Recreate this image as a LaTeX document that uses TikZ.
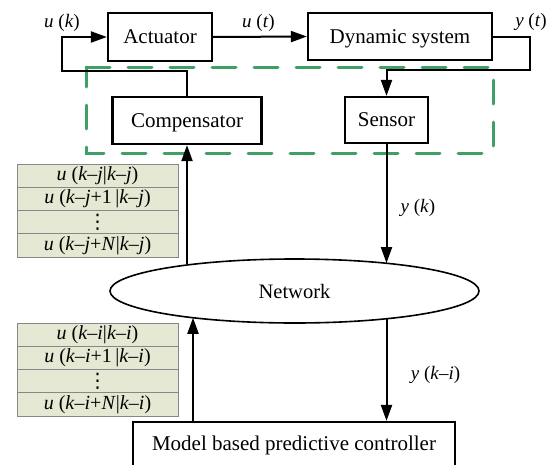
\documentclass[tikz,border=0pt]{standalone}
\usepackage{fontspec}
\setmainfont{Liberation Serif}
\newfontfamily\dejavu{DejaVu Sans}
\usetikzlibrary{arrows.meta,shapes.geometric,calc}
\definecolor{dashgreen}{RGB}{62,160,100}
\definecolor{tabfill}{RGB}{229,232,211}
\definecolor{tabline}{RGB}{135,135,135}
\newcommand\ii[1]{\textit{#1}}
\begin{document}
\begin{tikzpicture}[x=1pt,y=-1pt,
 blk/.style={draw, line width=2.2pt, inner sep=0pt, text height=13.9pt, text depth=0pt, font=\fontsize{21}{25}\selectfont},
 arr/.style={line width=2pt, -{Triangle[length=16pt,width=11pt]}},
 lbl/.style={inner sep=0pt, font=\fontsize{19}{22}\selectfont},
 cellbase/.style={draw=tabline, fill=tabfill, line width=0.9pt, minimum width=161pt, minimum height=23.25pt, inner sep=0pt},
 cell/.style={cellbase, text height=13.8pt, text depth=4.3pt, font=\fontsize{20}{22}\selectfont},
 dotcell/.style={cellbase, font=\fontsize{20}{22}\dejavu},
 grn/.style={draw=dashgreen, line width=3pt, dash pattern=on 24pt off 18pt, line cap=round}
]
\useasboundingbox (0,0) rectangle (552,464);

% dashed green frame
\draw[grn] (86,67) -- (493,67) -- (493,153) -- (86,153) -- cycle;

% blocks
\node[blk, minimum width=104pt, minimum height=48pt] (act) at (160,37) {Actuator};
\node[blk, minimum width=184pt, minimum height=47pt] (dyn) at (400,36.5) {Dynamic system};
\node[blk, minimum width=149pt, minimum height=47pt] (comp) at (187,120.5) {Compensator};
\node[blk, minimum width=83pt, minimum height=46pt] (sens) at (386.5,120) {Sensor};
\node[blk, minimum width=322pt, minimum height=47pt, text depth=4pt] (mpc) at (294,445.5) {Model based predictive controller};
\node[draw, ellipse, line width=1.6pt, minimum width=369pt, minimum height=64pt, inner sep=0pt, font=\fontsize{20.5}{24}\selectfont] (net) at (294.5,291) {Network};

% coordinates for bends
\coordinate (fb) at (62,71);
\coordinate (yo) at (530,70);
\coordinate (mup) at (193,422);

% connectors
\draw[arr] (comp.north) |- (fb) |- (act.west);
\draw[arr] (act.east) -- (dyn.west);
\draw[arr] (dyn.east) -| (yo) -| (sens.north);
\draw[arr] (sens.south) -- (sens.south |- net.16.67);
\draw[arr] (sens.south |- net.-16.67) -- (sens.south |- mpc.north);
\draw[arr] (comp.south |- net.166.3) -- (comp.south);
\draw[arr] (mup) -- (mup |- net.194.7);

% labels
\node[lbl] (luk) at (62,22.5) {\ii{u} (\ii{k})};
\node[lbl] (lut) at (258.5,22.5) {\ii{u} (\ii{t})};
\node[lbl] (lyt) at (531,22) {\ii{y} (\ii{t})};
\node[lbl] (lyk) at (418,207.5) {\ii{y} (\ii{k})};
\node[lbl] (lyki) at (435.5,374.5) {\ii{y} (\ii{k}–\ii{i})};

% upper table
\node[cell] (j1) at (97.5,175.6) {\ii{u} (\ii{k}–\ii{j}|\ii{k}–\ii{j})};
\node[cell] (j2) at (97.5,198.9) {\ii{u} (\ii{k}–\ii{j}+1\,|\ii{k}–\ii{j})};
\node[dotcell] (j3) at (97.5,222.1) {⋮};
\node[cell] (j4) at (97.5,245.4) {\ii{u} (\ii{k}–\ii{j}+\ii{N}|\ii{k}–\ii{j})};

% lower table
\node[cell] (i1) at (97.5,334.6) {\ii{u} (\ii{k}–\ii{i}|\ii{k}–\ii{i})};
\node[cell] (i2) at (97.5,357.9) {\ii{u} (\ii{k}–\ii{i}+1\,|\ii{k}–\ii{i})};
\node[dotcell] (i3) at (97.5,381.1) {⋮};
\node[cell] (i4) at (97.5,404.4) {\ii{u} (\ii{k}–\ii{i}+\ii{N}|\ii{k}–\ii{i})};
\end{tikzpicture}
\end{document}
